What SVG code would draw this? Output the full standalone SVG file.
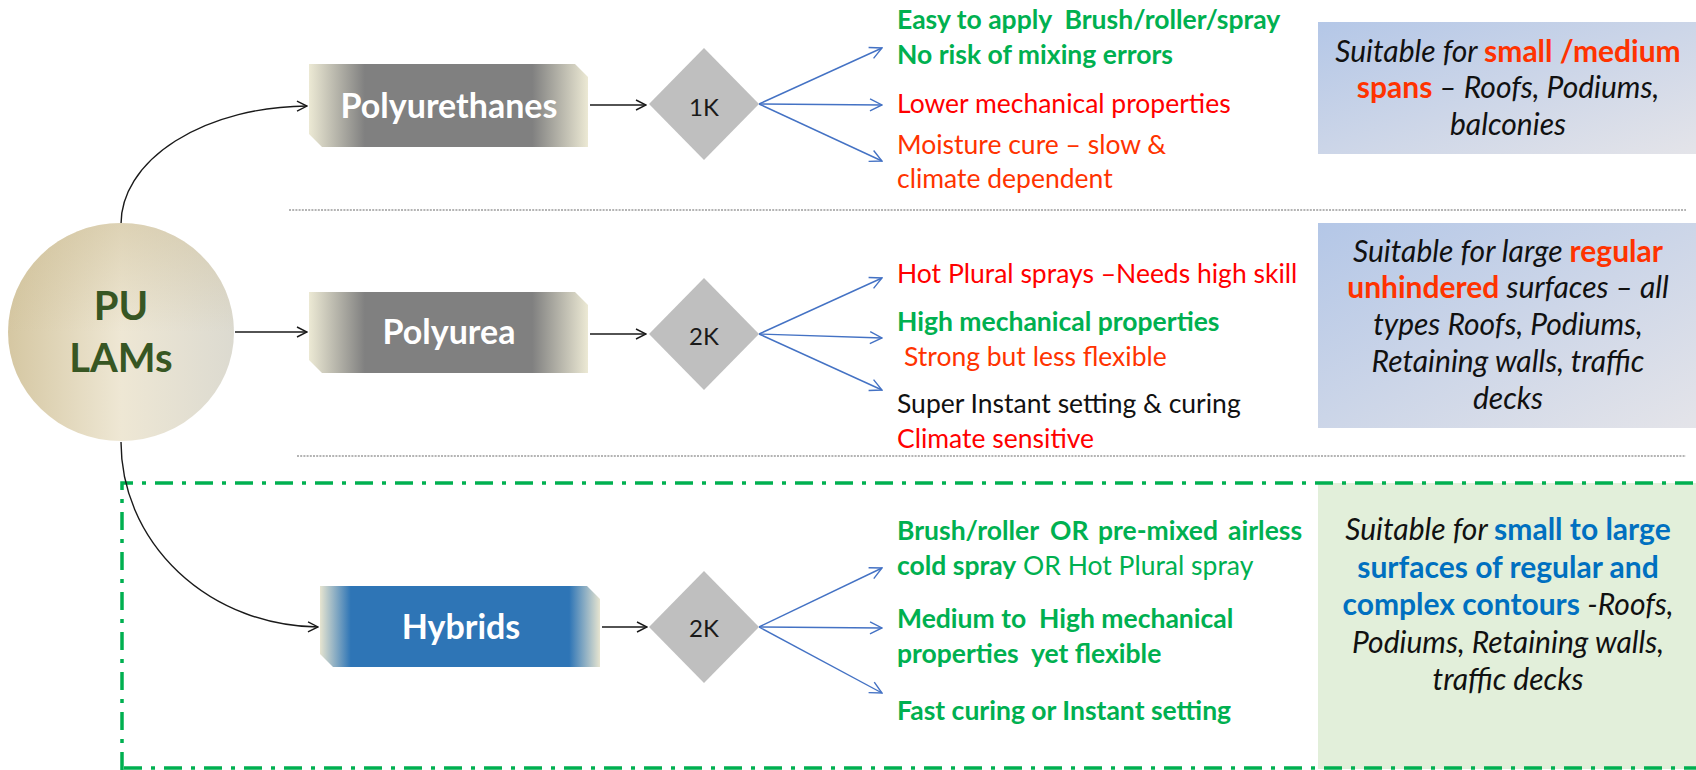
<svg xmlns="http://www.w3.org/2000/svg" width="1696" height="770" viewBox="0 0 1696 770">
<style>
.f{font-family:Lato,"Open Sans","Liberation Sans",sans-serif}
.lst{font-size:26.5px}
.g{fill:#00b050;font-weight:bold}
.gn{fill:#00b050}
.r{fill:#ff0000}
.o{fill:#ff3300}
.k{fill:#111111}
.bx{font-size:30px;text-anchor:middle}
.i{font-style:italic;fill:#111111}
.rb{fill:#ff3300;font-weight:bold}
.bb{fill:#0070c0;font-weight:bold}
.node{font-size:34px;font-weight:bold;fill:#ffffff;text-anchor:middle}
.dk{font-size:24px;fill:#1a1a1a;text-anchor:middle}
.dia{fill:#bfbfbf}
.blk{fill:none;stroke:#1a1a1a;stroke-width:1.4}
.blu{fill:none;stroke:#4472c4;stroke-width:1.4}
.sep{fill:none;stroke:#6a6a6a;stroke-width:1.1;stroke-dasharray:2 1.2}
</style>
<defs>
<linearGradient id="grayG" x1="0" y1="0" x2="1" y2="0">
<stop offset="0" stop-color="#ece9d4"/>
<stop offset="0.2" stop-color="#808080"/>
<stop offset="0.8" stop-color="#808080"/>
<stop offset="1" stop-color="#ece9d4"/>
</linearGradient>
<linearGradient id="blueG" x1="0" y1="0" x2="1" y2="0">
<stop offset="0" stop-color="#e6e4d0"/>
<stop offset="0.11" stop-color="#2e75b6"/>
<stop offset="0.89" stop-color="#2e75b6"/>
<stop offset="1" stop-color="#e6e4d0"/>
</linearGradient>
<linearGradient id="circG" x1="0" y1="0" x2="1" y2="0">
<stop offset="0" stop-color="#d5c7a2"/>
<stop offset="0.5" stop-color="#eee7d4"/>
<stop offset="1" stop-color="#dcdad0"/>
</linearGradient>
<linearGradient id="circV" x1="0" y1="0" x2="0" y2="1">
<stop offset="0" stop-color="#c9b98f" stop-opacity="0.45"/>
<stop offset="0.5" stop-color="#c9b98f" stop-opacity="0"/>
</linearGradient>
<linearGradient id="boxG" x1="0" y1="0" x2="1" y2="1">
<stop offset="0" stop-color="#b4c7e7"/>
<stop offset="1" stop-color="#e4e4e9"/>
</linearGradient>
<marker id="ab" viewBox="0 0 12 12" refX="11" refY="6" markerWidth="12" markerHeight="12" markerUnits="userSpaceOnUse" orient="auto">
<path d="M1,1 L11,6 L1,11" fill="none" stroke="#1a1a1a" stroke-width="1.4"/>
</marker>
<marker id="au" viewBox="0 0 14 14" refX="13" refY="7" markerWidth="14" markerHeight="14" markerUnits="userSpaceOnUse" orient="auto">
<path d="M1,1 L13,7 L1,13" fill="none" stroke="#4472c4" stroke-width="1.4"/>
</marker>
</defs>
<rect width="1696" height="770" fill="#ffffff"/>

<g id="box-hybrids-bg">
<rect x="1318" y="483" width="380" height="286" fill="#e2efda"/>
</g>

<g id="separators">
<line class="sep" x1="289" y1="210" x2="1686" y2="210"/>
<line class="sep" x1="297" y1="456" x2="1686" y2="456"/>
<path d="M122,770 V483 H1700" fill="none" stroke="#00b050" stroke-width="3.5" stroke-dasharray="18 9 4 9"/>
<line x1="124" y1="768" x2="1700" y2="768" stroke="#00b050" stroke-width="3.5" stroke-dasharray="18 9 4 9"/>
</g>

<g id="connectors">
<path class="blk" d="M121,224 A188,118 0 0 1 307,106" marker-end="url(#ab)"/>
<line class="blk" x1="235" y1="332" x2="307" y2="332" marker-end="url(#ab)"/>
<path class="blk" d="M121,442 A199,185 0 0 0 318,627" marker-end="url(#ab)"/>
<line class="blk" x1="590" y1="105" x2="646" y2="105" marker-end="url(#ab)"/>
<line class="blk" x1="590" y1="334" x2="646" y2="334" marker-end="url(#ab)"/>
<line class="blk" x1="602" y1="627" x2="647" y2="627" marker-end="url(#ab)"/>
<line class="blu" x1="759" y1="104" x2="882" y2="48" marker-end="url(#au)"/>
<line class="blu" x1="759" y1="104" x2="882" y2="105" marker-end="url(#au)"/>
<line class="blu" x1="759" y1="104" x2="882" y2="161" marker-end="url(#au)"/>
<line class="blu" x1="759" y1="334" x2="882" y2="278" marker-end="url(#au)"/>
<line class="blu" x1="759" y1="334" x2="882" y2="338" marker-end="url(#au)"/>
<line class="blu" x1="759" y1="334" x2="882" y2="390" marker-end="url(#au)"/>
<line class="blu" x1="759" y1="627" x2="882" y2="568" marker-end="url(#au)"/>
<line class="blu" x1="759" y1="627" x2="882" y2="628" marker-end="url(#au)"/>
<line class="blu" x1="759" y1="627" x2="882" y2="693" marker-end="url(#au)"/>
</g>

<g id="node-pu-lams">
<ellipse cx="121" cy="332" rx="113" ry="109" fill="url(#circG)"/>
<ellipse cx="121" cy="332" rx="113" ry="109" fill="url(#circV)"/>
<text class="f" x="121" y="320" font-size="40" font-weight="bold" fill="#375623" text-anchor="middle">PU</text>
<text class="f" x="121" y="372" font-size="40" font-weight="bold" fill="#375623" text-anchor="middle">LAMs</text>
</g>

<g id="node-polyurethanes">
<path d="M309,64 H575 L588,77 V147 H322 L309,134 Z" fill="url(#grayG)"/>
<text class="f node" x="449" y="118">Polyurethanes</text>
</g>
<g id="node-polyurea">
<path d="M309,292 H575 L588,305 V373 H322 L309,360 Z" fill="url(#grayG)"/>
<text class="f node" x="449" y="344">Polyurea</text>
</g>
<g id="node-hybrids">
<path d="M320,586 H587 L600,599 V667 H333 L320,654 Z" fill="url(#blueG)"/>
<text class="f node" x="461" y="639">Hybrids</text>
</g>

<g id="node-1k">
<polygon class="dia" points="704,48 759,104 704,160 649,104"/>
<text class="f dk" x="704" y="116">1K</text>
</g>
<g id="node-2k-a">
<polygon class="dia" points="704,278 759,334 704,390 649,334"/>
<text class="f dk" x="704" y="345">2K</text>
</g>
<g id="node-2k-b">
<polygon class="dia" points="704,571 759,627 704,683 649,627"/>
<text class="f dk" x="704" y="637">2K</text>
</g>

<g id="list-polyurethanes" class="f lst">
<text class="g" x="897" y="29" xml:space="preserve">Easy to apply  Brush/roller/spray</text>
<text class="g" x="897" y="64">No risk of mixing errors</text>
<text class="r" x="897" y="113">Lower mechanical properties</text>
<text class="o" x="897" y="154">Moisture cure – slow &amp;</text>
<text class="o" x="897" y="188">climate dependent</text>
</g>
<g id="list-polyurea" class="f lst">
<text class="r" x="897" y="283">Hot Plural sprays –Needs high skill</text>
<text class="g" x="897" y="331">High mechanical properties</text>
<text class="o" x="904" y="366">Strong but less flexible</text>
<text class="k" x="897" y="413">Super Instant setting &amp; curing</text>
<text class="r" x="897" y="448">Climate sensitive</text>
</g>
<g id="list-hybrids" class="f lst">
<text class="g" y="540"><tspan x="897">Brush/roller</tspan><tspan x="1050">OR</tspan><tspan x="1098">pre-mixed</tspan><tspan x="1228">airless</tspan></text>
<text x="897" y="575"><tspan class="g">cold spray</tspan><tspan class="gn"> OR Hot Plural spray</tspan></text>
<text class="g" x="897" y="628" xml:space="preserve">Medium to  High mechanical</text>
<text class="g" x="897" y="663" xml:space="preserve">properties  yet flexible</text>
<text class="g" x="897" y="720">Fast curing or Instant setting</text>
</g>

<g id="box-polyurethanes">
<rect x="1318" y="22" width="380" height="132" fill="url(#boxG)"/>
<text class="f bx" x="1508" y="62"><tspan class="i">Suitable for </tspan><tspan class="rb">small /medium</tspan></text>
<text class="f bx" x="1508" y="98"><tspan class="rb">spans</tspan><tspan class="i"> – Roofs, Podiums,</tspan></text>
<text class="f bx i" x="1508" y="135">balconies</text>
</g>
<g id="box-polyurea">
<rect x="1318" y="223" width="380" height="205" fill="url(#boxG)"/>
<text class="f bx" x="1508" y="262"><tspan class="i">Suitable for large </tspan><tspan class="rb">regular</tspan></text>
<text class="f bx" x="1508" y="298"><tspan class="rb">unhindered</tspan><tspan class="i"> surfaces – all</tspan></text>
<text class="f bx i" x="1508" y="335">types Roofs, Podiums,</text>
<text class="f bx i" x="1508" y="372">Retaining walls, traffic</text>
<text class="f bx i" x="1508" y="409">decks</text>
</g>
<g id="box-hybrids">
<text class="f bx" x="1508" y="540"><tspan class="i">Suitable for </tspan><tspan class="bb">small to large</tspan></text>
<text class="f bx bb" x="1508" y="578">surfaces of regular and</text>
<text class="f bx" x="1508" y="615"><tspan class="bb">complex contours </tspan><tspan class="i">-Roofs,</tspan></text>
<text class="f bx i" x="1508" y="653">Podiums, Retaining walls,</text>
<text class="f bx i" x="1508" y="690">traffic decks</text>
</g>
</svg>
